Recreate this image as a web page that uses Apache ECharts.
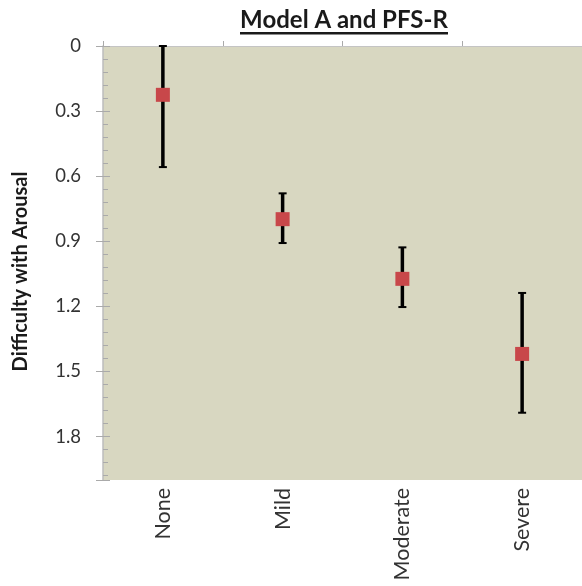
<!DOCTYPE html>
<html>
<head>
<meta charset="utf-8">
<script src="https://cdn.jsdelivr.net/npm/echarts@6/dist/echarts.min.js"></script>
<style>
  html, body { margin: 0; padding: 0; background: #fff; }
  #main { width: 582px; height: 586px; }
</style>
</head>
<body>
<div id="main"></div>
<script>
// severity groups and the estimated value with its interval
var categories = ['None', 'Mild', 'Moderate', 'Severe'];
var means = [0.225, 0.798, 1.073, 1.419];
var lower = [0.0, 0.679, 0.928, 1.138];
var upper = [0.558, 0.908, 1.203, 1.690];
var yTicks = [0, 0.3, 0.6, 0.9, 1.2, 1.5, 1.8];

var FONT = 'Lato';
var TICK_GRAY = '#aaaaaa';

var myChart = echarts.init(document.getElementById('main'));

var barData = categories.map(function (c, i) { return [i, lower[i], upper[i]]; });

myChart.setOption({
  animation: false,
  backgroundColor: '#ffffff',
  graphic: [{
    type: 'text',
    x: 344, y: 8,
    style: {
      text: 'Model A and PFS-R',
      textAlign: 'center',
      fontFamily: FONT, fontWeight: 'bold', fontSize: 24, fill: '#1a1a1a'
    }
  }, {
    // underline of the title
    type: 'rect',
    shape: { x: 240, y: 32, width: 208, height: 2.5 },
    style: { fill: '#1a1a1a' }
  }],
  grid: {
    left: 103, top: 46, width: 486, height: 434,
    show: true, backgroundColor: '#d8d7c1', borderWidth: 0
  },
  xAxis: [{
    type: 'category',
    data: categories,
    position: 'bottom',
    boundaryGap: true,
    axisLine: { show: false },
    axisTick: { show: false },
    axisLabel: {
      rotate: 90, margin: 8,
      fontFamily: FONT, fontSize: 21.5, color: '#333333'
    }
  }, {
    type: 'category',
    data: categories,
    position: 'top',
    boundaryGap: true,
    axisLine: { show: true, lineStyle: { color: '#c4c4c4', width: 1 } },
    axisTick: { show: true, length: 5, lineStyle: { color: TICK_GRAY } },
    axisLabel: { show: false }
  }],
  yAxis: [{
    type: 'value',
    inverse: true,
    min: 0, max: 2.0, interval: 0.3,
    name: 'Difficulty with Arousal',
    nameLocation: 'middle',
    nameGap: 72,
    nameTextStyle: {
      fontFamily: FONT, fontWeight: 'bold', fontSize: 20, color: '#1a1a1a',
      padding: [0, 17, 0, 0]
    },
    axisLine: { show: true, lineStyle: { color: '#bdbdbd', width: 1.5 } },
    axisTick: { show: true, length: 7, lineStyle: { color: TICK_GRAY } },
    splitLine: { show: false },
    axisLabel: {
      margin: 22,
      fontFamily: FONT, fontSize: 18.5, color: '#333333',
      formatter: function (v) {
        var t = yTicks.filter(function (k) { return Math.abs(k - v) < 1e-6; });
        return t.length ? String(t[0]) : '';
      }
    }
  }, {
    type: 'value',
    inverse: true,
    position: 'left',
    min: 0, max: 2.0, interval: 0.3,
    axisLine: { show: false },
    axisTick: { show: true, inside: true, length: 7, lineStyle: { color: TICK_GRAY } },
    minorTick: { show: true, splitNumber: 5, length: 5, lineStyle: { color: TICK_GRAY } },
    splitLine: { show: false },
    axisLabel: { show: false }
  }],
  series: [{
    type: 'custom',
    xAxisIndex: 0,
    yAxisIndex: 0,
    data: barData,
    z: 2,
    renderItem: function (params, api) {
      var top = api.coord([api.value(0), api.value(1)]);
      var bot = api.coord([api.value(0), api.value(2)]);
      var hw = 4;
      var lineStyle = { stroke: '#000000', lineWidth: 3.5 };
      var capStyle = { stroke: '#000000', lineWidth: 2 };
      return {
        type: 'group',
        children: [
          { type: 'line', shape: { x1: top[0], y1: top[1], x2: bot[0], y2: bot[1] }, style: lineStyle },
          { type: 'line', shape: { x1: top[0] - hw, y1: top[1], x2: top[0] + hw, y2: top[1] }, style: capStyle },
          { type: 'line', shape: { x1: bot[0] - hw, y1: bot[1], x2: bot[0] + hw, y2: bot[1] }, style: capStyle }
        ]
      };
    }
  }, {
    type: 'scatter',
    xAxisIndex: 0,
    yAxisIndex: 0,
    data: means,
    symbol: 'rect',
    symbolSize: 14,
    z: 3,
    itemStyle: { color: '#c8474a', opacity: 1 }
  }]
});
</script>
</body>
</html>
